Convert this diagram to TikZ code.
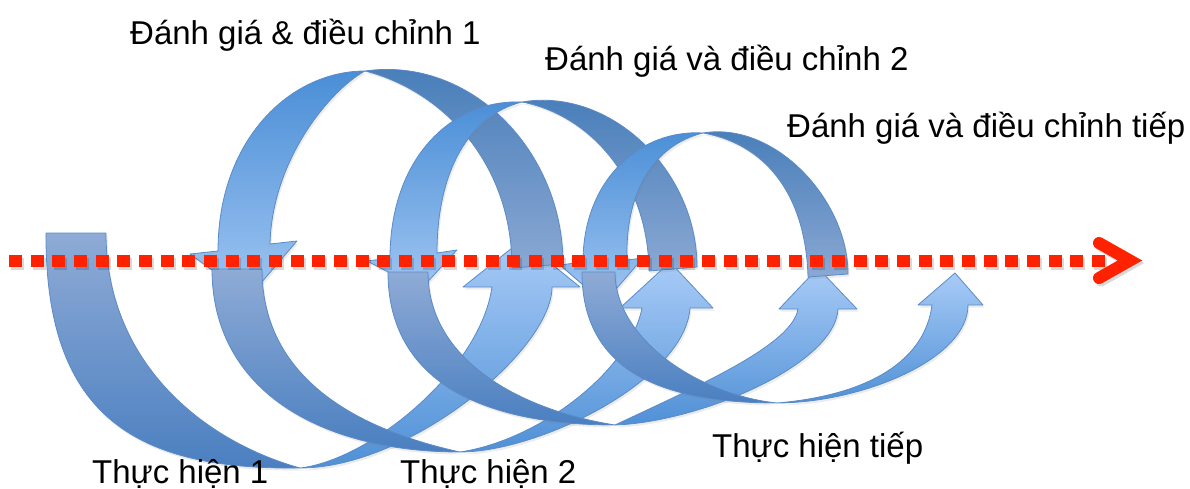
\documentclass[tikz,border=0pt]{standalone}
\usepackage{fontspec}
\setmainfont{Liberation Sans}
\usetikzlibrary{shadows}
\definecolor{edge}{HTML}{5B8BC7}
\definecolor{ldTop}{HTML}{8FABD6}
\definecolor{ldBot}{HTML}{4A7FC0}
\definecolor{llTop}{HTML}{A8CBF7}
\definecolor{llBot}{HTML}{4F90D6}
\definecolor{ufTop}{HTML}{4A8ED6}
\definecolor{ufBot}{HTML}{9FC5F2}
\definecolor{ubTop}{HTML}{457CB8}
\definecolor{ubBot}{HTML}{8AA8D3}
\definecolor{dotred}{HTML}{FF2200}
\begin{document}
\begin{tikzpicture}[x=1pt,y=-1pt,
  lab/.style={anchor=base west, inner sep=0pt, font=\fontsize{33}{40}\selectfont},
  band/.style={draw=edge, line width=0.8pt, line join=round,
    drop shadow={opacity=0.15, shadow xshift=1.5pt, shadow yshift=-2.5pt}},
  ldark/.style={band, top color=ldTop, bottom color=ldBot},
  llight/.style={band, top color=llTop, bottom color=llBot},
  ufront/.style={band, top color=ufTop, bottom color=ufBot},
  uback/.style={band, top color=ubTop, bottom color=ubBot},
  dots/.style={line width=12pt, dash pattern=on 13pt off 8.66pt},
]
\useasboundingbox (0,0) rectangle (1190,489);

% rising (light) parts of the lower arrows
\draw[llight] (300,468) .. controls (410,468) and (552,350) .. (552,287) -- (580,287) -- (522,240) -- (463,287) -- (492,287) .. controls (480,370) and (370,460) .. (300,468) -- cycle;
\draw[llight] (460,452) .. controls (540,452) and (685,380) .. (690,308) -- (713,308) -- (670,262) -- (620,308) -- (642,308) .. controls (630,370) and (540,440) .. (460,452) -- cycle;
\draw[llight] (615,425) .. controls (700,422) and (835,365) .. (838,309) -- (857,309) -- (818,268) -- (779,309) -- (798,309) .. controls (792,345) and (700,385) .. (615,425) -- cycle;
\draw[llight] (777,403) .. controls (860,403) and (968,360) .. (968,305) -- (983,305) -- (955,273) -- (918,305) -- (932,305) .. controls (925,360) and (870,395) .. (777,403) -- cycle;

% back (dark) parts of the upper arcs
\draw[uback] (365,71) .. controls (470,56) and (563,150) .. (563,264) -- (512,268) .. controls (512,160) and (440,90) .. (365,71) -- cycle;
\draw[uback] (522,102) .. controls (610,87) and (697,170) .. (697,267) -- (649,271) .. controls (648,180) and (590,115) .. (522,102) -- cycle;
\draw[uback] (703,133) .. controls (775,121) and (848,200) .. (848,274) -- (808,277) .. controls (806,200) and (770,145) .. (703,133) -- cycle;

% front (light) parts of the upper arcs with arrowheads
\draw[ufront] (365,71) .. controls (290,71) and (218,140) .. (218,251) -- (190,254) -- (249,297) -- (297,241) -- (270,244) .. controls (272,160) and (330,90) .. (365,71) -- cycle;
\draw[ufront] (522,102) .. controls (450,99) and (390,160) .. (390,258) -- (367,261) -- (421,289) -- (457,250) -- (437,253) .. controls (437,170) and (470,115) .. (522,102) -- cycle;
\draw[ufront] (703,133) .. controls (640,129) and (583,180) .. (583,262) -- (560,265) -- (604,303) -- (643,258) -- (627,260) .. controls (625,190) and (655,145) .. (703,133) -- cycle;

% descending (dark) parts of the lower arrows
\draw[ldark] (46,233) .. controls (45,420) and (140,470) .. (300,468) .. controls (200,440) and (106,360) .. (106,233) -- cycle;
\draw[ldark] (212,269) .. controls (212,390) and (320,452) .. (460,452) .. controls (360,430) and (262,380) .. (262,269) -- cycle;
\draw[ldark] (388,272) .. controls (388,380) and (480,425) .. (615,425) .. controls (520,410) and (428,360) .. (428,272) -- cycle;
\draw[ldark] (582,272) .. controls (582,370) and (660,403) .. (777,403) .. controls (700,395) and (615,340) .. (615,272) -- cycle;

% dotted time line
\draw[dots, black, opacity=0.15] (11,263.5) -- (1107,263.5);
\draw[dots, dotred] (9,261) -- (1105,261);
\draw[black, opacity=0.15, line width=12pt, line cap=round, line join=miter] (1101,245.5) -- (1132,263) -- (1101,280.5);
\draw[dotred, line width=12pt, line cap=round, line join=miter] (1099,243) -- (1130,260.5) -- (1099,278);

% labels
\node[lab] (e1) at (130,45) {Đánh giá \& điều chỉnh 1};
\node[lab] (e2) at (545,71) {Đánh giá và điều chỉnh 2};
\node[lab] (e3) at (787,138) {Đánh giá và điều chỉnh tiếp};
\node[lab] (t1) at (92,483) {Thực hiện 1};
\node[lab] (t2) at (400,483) {Thực hiện 2};
\node[lab] (t3) at (712,457) {Thực hiện tiếp};
\end{tikzpicture}
\end{document}
